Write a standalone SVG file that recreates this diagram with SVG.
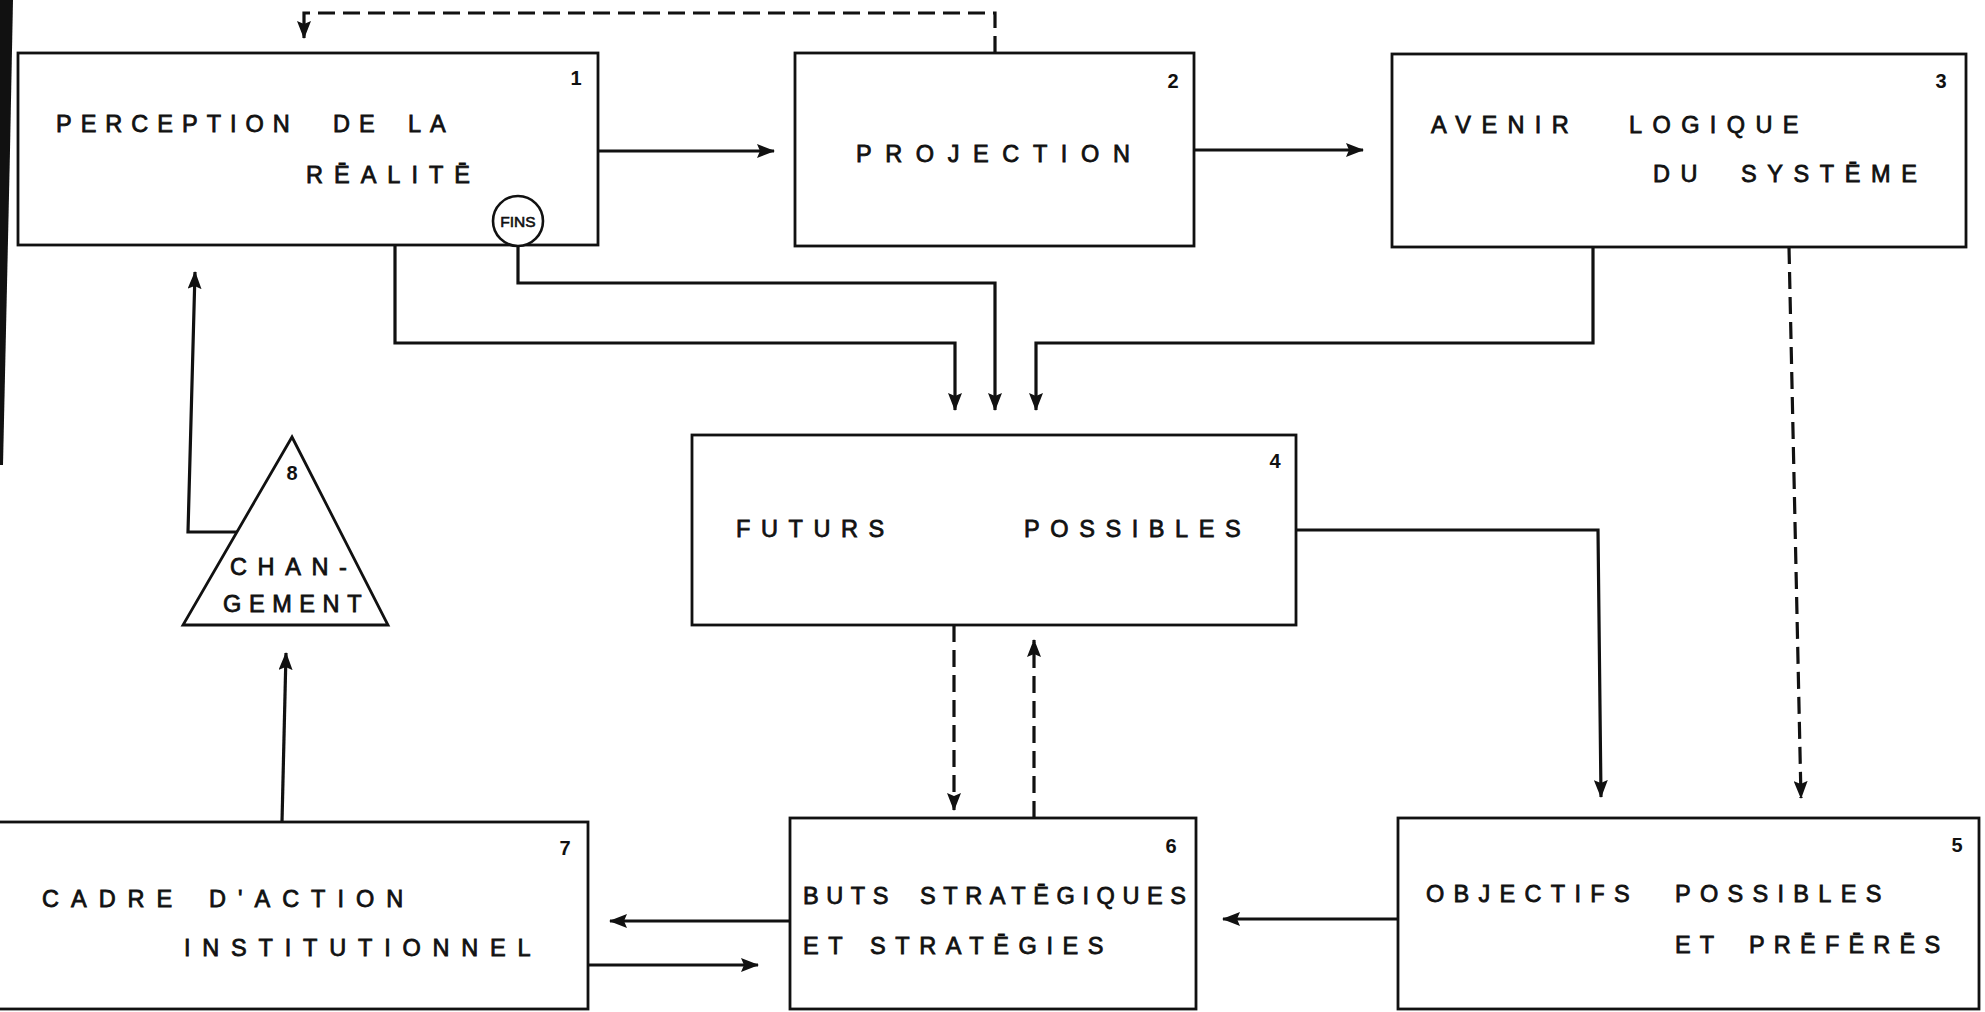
<svg xmlns="http://www.w3.org/2000/svg" width="1985" height="1012" viewBox="0 0 1985 1012">
<style>
.box{fill:none;stroke:#111;stroke-width:2.8}
.tri{fill:#fff;stroke:#111;stroke-width:2.8;stroke-linejoin:miter}
.lbl{font-family:"Liberation Sans",Arial,sans-serif;font-size:23.5px;fill:#111;stroke:#111;stroke-width:0.8}
.num{font-family:"Liberation Sans",Arial,sans-serif;font-size:20px;font-weight:bold;fill:#111;text-anchor:middle}
.c{fill:none;stroke:#111;stroke-width:3.2;marker-end:url(#ah)}
.d{stroke-dasharray:17 8}
</style>
<defs>
<marker id="ah" markerUnits="userSpaceOnUse" markerWidth="18" markerHeight="14" refX="17" refY="7" orient="auto">
<path d="M0,0 L18,7 L0,14 L3,7 z" fill="#111"/>
</marker>
</defs>
<rect width="1985" height="1012" fill="#fff"/>
<polygon points="0,0 13,0 10,150 6,330 3,465 0,465" fill="#111"/>

<g id="connectors">
<path class="c" d="M598,151 L774,151"/>
<path class="c" d="M1194,150 L1363,150"/>
<path class="c" d="M1398,919 L1223,919"/>
<path class="c" d="M790,921 L610,921"/>
<path class="c" d="M588,965 L758,965"/>
<path class="c" d="M282,822 L286,653"/>
<path class="c" d="M237,532 L188,532 L195,272"/>
<path class="c" d="M395,245 L395,343 L955,343 L955,410"/>
<path class="c" d="M518,246 L518,283 L995,283 L995,410"/>
<path class="c" d="M1593,247 L1593,343 L1036,343 L1036,410"/>
<path class="c" d="M1296,530 L1598,530 L1601,797"/>
<path class="c d" d="M1789,247 L1801,798"/>
<path class="c d" d="M954,625 L954,810"/>
<path class="c d" d="M1034,818 L1034,640"/>
<path class="c d" d="M995,53 L995,13 L304,13 L304,38"/>
</g>

<g id="node1">
<rect class="box" x="18" y="53" width="580" height="192"/>
<text class="num" x="576" y="85">1</text>
<text class="lbl" y="132" letter-spacing="9"><tspan x="56">PERCEPTION</tspan><tspan x="333">DE</tspan><tspan x="408">LA</tspan></text>
<text class="lbl" x="306" y="183" letter-spacing="11">RĒALITĒ</text>
<circle cx="518" cy="221" r="25" fill="#fff" stroke="#111" stroke-width="2.6"/>
<text x="518" y="227" text-anchor="middle" font-family="Liberation Sans,Arial,sans-serif" font-size="15.5" fill="#111" stroke="#111" stroke-width="0.6">FINS</text>
</g>

<g id="node2">
<rect class="box" x="795" y="53" width="399" height="193"/>
<text class="num" x="1173" y="88">2</text>
<text class="lbl" x="856" y="162" letter-spacing="13.6">PROJECTION</text>
</g>

<g id="node3">
<rect class="box" x="1392" y="54" width="574" height="193"/>
<text class="num" x="1941" y="88">3</text>
<text class="lbl" y="133" letter-spacing="10.4"><tspan x="1431">AVENIR</tspan><tspan x="1629">LOGIQUE</tspan></text>
<text class="lbl" y="182" letter-spacing="10.6"><tspan x="1653">DU</tspan><tspan x="1741">SYSTĒME</tspan></text>
</g>

<g id="node4">
<rect class="box" x="692" y="435" width="604" height="190"/>
<text class="num" x="1275" y="468">4</text>
<text class="lbl" y="537" letter-spacing="10.6"><tspan x="736">FUTURS</tspan><tspan x="1024">POSSIBLES</tspan></text>
</g>

<g id="node5">
<rect class="box" x="1398" y="818" width="581" height="191"/>
<text class="num" x="1957" y="852">5</text>
<text class="lbl" y="902" letter-spacing="9.3"><tspan x="1426">OBJECTIFS</tspan><tspan x="1675">POSSIBLES</tspan></text>
<text class="lbl" y="953" letter-spacing="9.2"><tspan x="1675">ET</tspan><tspan x="1749">PRĒFĒRĒS</tspan></text>
</g>

<g id="node6">
<rect class="box" x="790" y="818" width="406" height="191"/>
<text class="num" x="1171" y="853">6</text>
<text class="lbl" y="904" letter-spacing="7.6"><tspan x="803">BUTS</tspan><tspan x="920">STRATĒGIQUES</tspan></text>
<text class="lbl" y="954" letter-spacing="9.6"><tspan x="803">ET</tspan><tspan x="870">STRATĒGIES</tspan></text>
</g>

<g id="node7">
<rect class="box" x="-5" y="822" width="593" height="187"/>
<text class="num" x="565" y="855">7</text>
<text class="lbl" y="907" letter-spacing="12"><tspan x="42">CADRE</tspan><tspan x="209">D'ACTION</tspan></text>
<text class="lbl" x="184" y="956" letter-spacing="11.8">INSTITUTIONNEL</text>
</g>

<g id="node8">
<polygon class="tri" points="292,437 388,625 183,625"/>
<text class="num" x="292" y="480">8</text>
<text class="lbl" x="230" y="575" letter-spacing="10.6">CHAN-</text>
<text class="lbl" x="223" y="612" letter-spacing="7.6">GEMENT</text>
</g>
</svg>
